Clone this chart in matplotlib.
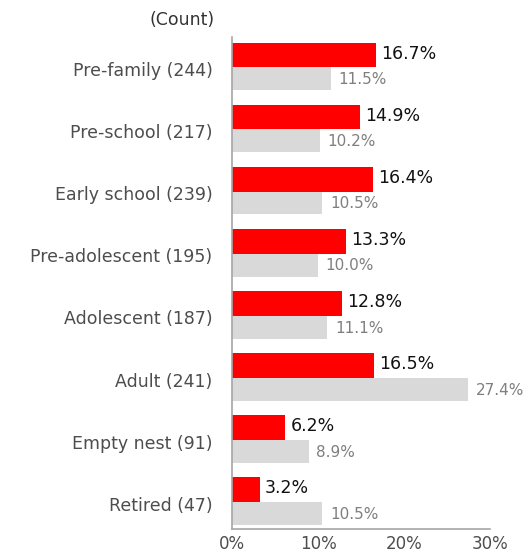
import matplotlib.pyplot as plt
import numpy as np

plt.rcParams['font.family'] = ['DejaVu Sans']

categories = ["Pre-family (244)", "Pre-school (217)", "Early school (239)",
              "Pre-adolescent (195)", "Adolescent (187)", "Adult (241)",
              "Empty nest (91)", "Retired (47)"]
red_vals = [16.7, 14.9, 16.4, 13.3, 12.8, 16.5, 6.2, 3.2]
gray_vals = [11.5, 10.2, 10.5, 10.0, 11.1, 27.4, 8.9, 10.5]
xticks = [0, 10, 20, 30]

fig = plt.figure(figsize=(5.29, 5.55), dpi=100)
ax = fig.add_axes([0.4386, 0.0468, 0.4877, 0.8865])

y = np.arange(len(categories))
ax.barh(y - 0.2, red_vals, height=0.40, color='#FF0000')
ax.barh(y + 0.185, gray_vals, height=0.37, color='#D9D9D9')

for i in range(len(categories)):
    ax.text(red_vals[i] + 0.6, y[i] - 0.22, f"{red_vals[i]:.1f}%", va='center', ha='left',
            fontsize=12.5, color='#111111')
    ax.text(gray_vals[i] + 0.9, y[i] + 0.2, f"{gray_vals[i]:.1f}%", va='center', ha='left',
            fontsize=11, color='#7F7F7F')

ax.set_ylim(7.44, -0.49)
ax.set_xlim(0, 30)
ax.set_yticks(y + 0.03)
ax.set_yticklabels(categories, fontsize=12.5, color='#4D4D4D')
ax.set_xticks(xticks)
ax.set_xticklabels([f"{t}%" for t in xticks], fontsize=12, color='#4D4D4D')
ax.tick_params(axis='y', length=0, pad=14)
ax.tick_params(axis='x', length=0, pad=4)
for s in ['top', 'right']:
    ax.spines[s].set_visible(False)
for s in ['left', 'bottom']:
    ax.spines[s].set_color('#A6A6A6')
    ax.spines[s].set_linewidth(1.2)

fig.text(215 / 529, 1 - 20 / 555, "(Count)", ha='right', va='center', fontsize=12.5, color='#333333')

fig.savefig('out.png', dpi=100)
